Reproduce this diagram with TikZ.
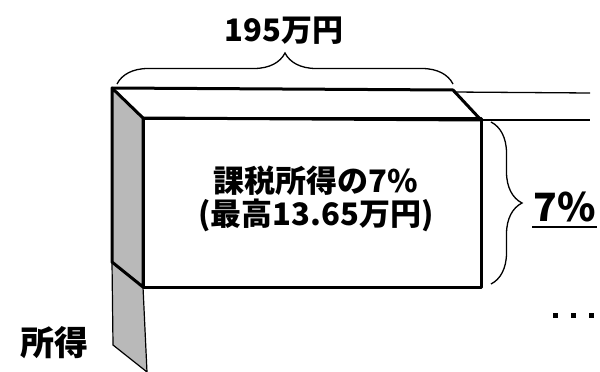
\documentclass[tikz,border=0pt]{standalone}
\usepackage{fontspec}
\setmainfont{Noto Sans CJK JP}
\usetikzlibrary{decorations.pathreplacing}
\begin{document}
\begin{tikzpicture}[x=1pt,y=-1pt,
  edge/.style={line width=3pt, line join=round},
  panel/.style={fill=gray!55},
  thin/.style={line width=1.3pt},
  bracestyle/.style={line width=1.3pt, decorate, decoration={brace, amplitude=#1}},
  lbl/.style={inner sep=0pt, font=\fontsize{#1}{#1}\selectfont\bfseries}]
\useasboundingbox (0,0) rectangle (600,372);
% corners
\coordinate (tl) at (112,88);
\coordinate (tr) at (453,90);
\coordinate (ftl) at (143,118);
\coordinate (ftr) at (481,120);
\coordinate (fbl) at (143,287);
\coordinate (fbr) at (481,287);
\coordinate (sbl) at (112,262);
\coordinate (lbl) at (113,345);
\coordinate (lbr) at (147,372);
\coordinate (e1) at (590,93);
\coordinate (e2) at (590,120);
% lower shaded panel
\draw[panel, line width=1.2pt] (sbl) -- (fbl) -- (lbr) -- (lbl) -- cycle;
% left side face
\draw[panel, edge] (tl) -- (ftl) -- (fbl) -- (sbl) -- cycle;
% top face
\draw[edge] (tl) -- (tr) -- (ftr) -- (ftl);
% front face
\draw[edge] (ftl) rectangle (fbr);
% extension lines
\draw[thin] (tr) ++(0,2) -- (e1);
\draw[thin] (ftr) -- (e2);
% braces
\coordinate (b1) at (117,84);
\coordinate (b2) at (453,84);
\draw[bracestyle=31] (b1) -- (b2);
\coordinate (c1) at (491,122);
\coordinate (c2) at (491,284);
\draw[bracestyle=31] (c1) -- (c2);
% texts
\node[lbl=31] (width) at (284,31) {195万円};
\node[lbl=31, align=center] (inner) at (316,199) {課税所得の7\%\\[2pt](最高13.65万円)};
\node[lbl=34] (inc) at (54,343) {所得};
\node[lbl=39] (pct) at (565,207) {7\%};
\draw[line width=2pt] (532,227) -- (597,227);
% dots
\foreach \x in {555,573,591} \fill (\x-2.5,312.5) rectangle (\x+2.5,317.5);
\end{tikzpicture}
\end{document}
